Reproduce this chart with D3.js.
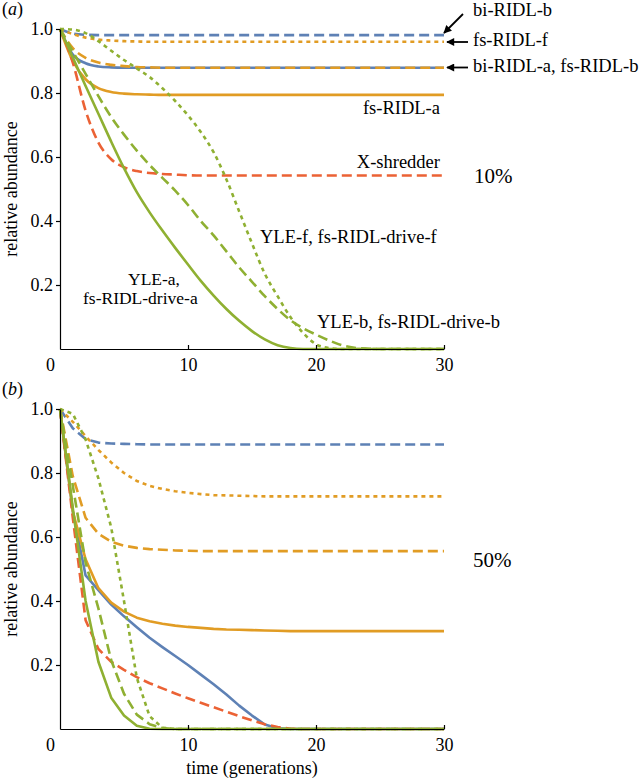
<!DOCTYPE html>
<html><head><meta charset="utf-8">
<script src="https://cdn.jsdelivr.net/npm/d3@7"></script>
<style>
body{margin:0;background:#fff}
svg{display:block}
text{font-family:"Liberation Serif","Times New Roman",serif;fill:#000}
</style>
</head><body>
<svg id="chart" width="640" height="781"></svg>
<script>
// ---------- DATA ----------
const generations = [0,1,2,3,4,5,6,7,8,9,10,11,12,13,14,15,16,17,18,19,20,21,22,23,24,25,26,27,28,29,30];
const xTicks = [0,10,20,30];
const yTicks = [0.2,0.4,0.6,0.8,1.0];

// panel (a): 10%
const a_biRIDL_b = [1.0,0.986,0.982,0.981,0.981,0.981,0.981,0.981,0.981,0.981,0.981,0.981,0.981,0.981,0.981,0.981,0.981,0.981,0.981,0.981,0.981,0.981,0.981,0.981,0.981,0.981,0.981,0.981,0.981,0.981,0.981];
const a_fsRIDL_f = [1.0,0.984,0.973,0.967,0.964,0.962,0.961,0.96,0.96,0.96,0.96,0.96,0.96,0.96,0.96,0.96,0.96,0.96,0.96,0.96,0.96,0.96,0.96,0.96,0.96,0.96,0.96,0.96,0.96,0.96,0.96];
const a_biRIDL_a = [1.0,0.92,0.893,0.883,0.88,0.879,0.879,0.879,0.879,0.879,0.879,0.879,0.879,0.879,0.879,0.879,0.879,0.879,0.879,0.879,0.879,0.879,0.879,0.879,0.879,0.879,0.879,0.879,0.879,0.879,0.879];
const a_fsRIDL_b = [1.0,0.94,0.91,0.895,0.888,0.884,0.881,0.88,0.879,0.879,0.879,0.879,0.879,0.879,0.879,0.879,0.879,0.879,0.879,0.879,0.879,0.879,0.879,0.879,0.879,0.879,0.879,0.879,0.879,0.879,0.879];
const a_fsRIDL_a = [1.0,0.90,0.843,0.815,0.803,0.798,0.796,0.795,0.794,0.794,0.794,0.794,0.794,0.794,0.794,0.794,0.794,0.794,0.794,0.794,0.794,0.794,0.794,0.794,0.794,0.794,0.794,0.794,0.794,0.794,0.794];
const a_xShredder = [1.0,0.895,0.745,0.645,0.593,0.568,0.556,0.55,0.547,0.545,0.543,0.542,0.542,0.542,0.542,0.542,0.542,0.542,0.542,0.542,0.542,0.542,0.542,0.542,0.542,0.542,0.542,0.542,0.542,0.542,0.542];
const a_yleA = [1.0,0.911,0.822,0.735,0.648,0.565,0.49,0.427,0.37,0.316,0.264,0.213,0.167,0.125,0.088,0.056,0.03,0.012,0.003,0,0,0,0,0,0,0,0,0,0,0,0];
const a_yleB = [1.0,0.93,0.86,0.79,0.725,0.67,0.62,0.575,0.535,0.495,0.45,0.40,0.355,0.305,0.255,0.21,0.165,0.125,0.09,0.065,0.045,0.027,0.012,0.004,0.001,0,0,0,0,0,0];
const a_yleF = [1.0,0.998,0.987,0.962,0.932,0.903,0.877,0.85,0.815,0.775,0.73,0.678,0.615,0.53,0.43,0.33,0.235,0.165,0.10,0.05,0.015,0.003,0,0,0,0,0,0,0,0,0];

// panel (b): 50%
const b_biRIDL_b = [1.0,0.94,0.906,0.895,0.892,0.891,0.89,0.889,0.889,0.889,0.889,0.889,0.889,0.889,0.889,0.889,0.889,0.889,0.889,0.889,0.889,0.889,0.889,0.889,0.889,0.889,0.889,0.889,0.889,0.889,0.889];
const b_fsRIDL_f = [1.0,0.96,0.915,0.872,0.833,0.80,0.775,0.76,0.75,0.743,0.738,0.734,0.731,0.73,0.729,0.728,0.727,0.727,0.727,0.727,0.727,0.727,0.727,0.727,0.727,0.727,0.727,0.727,0.727,0.727,0.727];
const b_fsRIDL_b = [1.0,0.79,0.66,0.61,0.585,0.573,0.566,0.562,0.56,0.558,0.557,0.556,0.556,0.556,0.556,0.556,0.556,0.556,0.556,0.556,0.556,0.556,0.556,0.556,0.556,0.556,0.556,0.556,0.556,0.556,0.556];
const b_fsRIDL_a = [1.0,0.68,0.53,0.44,0.395,0.367,0.348,0.337,0.329,0.323,0.319,0.316,0.313,0.311,0.31,0.309,0.308,0.307,0.306,0.306,0.306,0.306,0.306,0.306,0.306,0.306,0.306,0.306,0.306,0.306,0.306];
const b_biRIDL_a = [1.0,0.68,0.48,0.434,0.389,0.352,0.318,0.285,0.256,0.228,0.20,0.17,0.14,0.108,0.073,0.042,0.014,0.002,0,0,0,0,0,0,0,0,0,0,0,0,0];
const b_xShredder = [1.0,0.66,0.34,0.25,0.21,0.185,0.162,0.143,0.127,0.111,0.096,0.082,0.068,0.054,0.04,0.027,0.015,0.006,0.001,0,0,0,0,0,0,0,0,0,0,0,0];
const b_yleA = [1.0,0.69,0.40,0.21,0.098,0.042,0.01,0.001,0,0,0,0,0,0,0,0,0,0,0,0,0,0,0,0,0,0,0,0,0,0,0];
const b_yleB = [1.0,0.76,0.52,0.377,0.215,0.11,0.045,0.015,0.003,0,0,0,0,0,0,0,0,0,0,0,0,0,0,0,0,0,0,0,0,0,0];
const b_yleF = [1.0,0.985,0.905,0.783,0.63,0.40,0.16,0.04,0.004,0,0,0,0,0,0,0,0,0,0,0,0,0,0,0,0,0,0,0,0,0,0];

// ---------- STYLE ----------
const COL = {blue:"#5E81B5", orange:"#E19C24", green:"#8FB032", red:"#EB6235"};
const DASH = {solid:null, dashed:"10,5", dotted:"4,4"};

const svg = d3.select("#chart");
const defs = svg.append("defs");
defs.append("marker").attr("id","arr").attr("viewBox","0 0 10 10")
  .attr("refX",9).attr("refY",5).attr("markerWidth",10).attr("markerHeight",8)
  .attr("markerUnits","userSpaceOnUse").attr("orient","auto")
  .append("path").attr("d","M0,0 L10,5 L0,10 z").attr("fill","#000");

const x = d3.scaleLinear().domain([0,30]).range([60,444]);

function panel(yRange, series, tag, pct, pctPos, curve){
  const y = d3.scaleLinear().domain([0,1]).range(yRange);
  const g = svg.append("g");
  const line = d3.line().curve(curve).x((d,i)=>x(generations[i])).y(d=>y(d));
  series.forEach(s=>{
    g.append("path").attr("d", line(s.data)).attr("fill","none")
      .attr("stroke", COL[s.color]).attr("stroke-width",2.6)
      .attr("stroke-dasharray", DASH[s.dash]).attr("stroke-linejoin","round");
  });
  const ya = g.append("g").attr("transform","translate(60,0)")
    .call(d3.axisLeft(y).tickValues(yTicks).tickFormat(d3.format(".1f")).tickSize(4).tickSizeOuter(0).tickPadding(3));
  const xa = g.append("g").attr("transform",`translate(0,${yRange[0]})`)
    .call(d3.axisBottom(x).tickValues(xTicks).tickFormat(d3.format("d")).tickSize(-4).tickSizeOuter(0).tickPadding(9));
  [ya,xa].forEach(a=>{
    a.attr("font-family",null);
    a.selectAll("path,line").attr("stroke","#000").attr("stroke-width",1.2);
    a.selectAll("text").attr("font-size",18).attr("fill","#000");
  });
  xa.selectAll(".tick").filter(d=>d===0).select("line").remove();
  xa.selectAll(".tick").filter(d=>d===0).select("text").attr("x",-10);
  const cy = (yRange[0]+yRange[1])/2;
  g.append("text").attr("transform",`translate(17,${cy}) rotate(-90)`)
    .attr("text-anchor","middle").attr("font-size",18).text("relative abundance");
  const t = g.append("text").attr("x",2).attr("y",yRange[1]-14).attr("font-size",18);
  t.append("tspan").text("(");
  t.append("tspan").attr("font-style","italic").text(tag);
  t.append("tspan").text(")");
  g.append("text").attr("x",pctPos[0]).attr("y",pctPos[1]).attr("font-size",21).text(pct);
  return {g,y};
}

panel([349,29], [
  {data:a_biRIDL_a, color:"blue", dash:"solid"},
  {data:a_biRIDL_b, color:"blue", dash:"dashed"},
  {data:a_fsRIDL_a, color:"orange", dash:"solid"},
  {data:a_fsRIDL_b, color:"orange", dash:"dashed"},
  {data:a_fsRIDL_f, color:"orange", dash:"dotted"},
  {data:a_xShredder, color:"red", dash:"dashed"},
  {data:a_yleA, color:"green", dash:"solid"},
  {data:a_yleB, color:"green", dash:"dashed"},
  {data:a_yleF, color:"green", dash:"dotted"}
], "a", "10%", [474,183], d3.curveMonotoneX);

panel([729,409], [
  {data:b_biRIDL_a, color:"blue", dash:"solid"},
  {data:b_biRIDL_b, color:"blue", dash:"dashed"},
  {data:b_fsRIDL_a, color:"orange", dash:"solid"},
  {data:b_fsRIDL_b, color:"orange", dash:"dashed"},
  {data:b_fsRIDL_f, color:"orange", dash:"dotted"},
  {data:b_xShredder, color:"red", dash:"dashed"},
  {data:b_yleA, color:"green", dash:"solid"},
  {data:b_yleB, color:"green", dash:"dashed"},
  {data:b_yleF, color:"green", dash:"dotted"}
], "b", "50%", [473,567], d3.curveLinear);

svg.append("text").attr("x",252).attr("y",774).attr("text-anchor","middle").attr("font-size",18).text("time (generations)");

const ann = [
  {t:"bi-RIDL-b", x:473, y:16, a:"start", s:18.5},
  {t:"fs-RIDL-f", x:473, y:46, a:"start", s:18.5},
  {t:"bi-RIDL-a, fs-RIDL-b", x:473, y:72, a:"start", s:18.5},
  {t:"fs-RIDL-a", x:440, y:114, a:"end", s:18.5},
  {t:"X-shredder", x:440, y:168, a:"end", s:18.5},
  {t:"YLE-f, fs-RIDL-drive-f", x:260, y:243, a:"start", s:18.5},
  {t:"YLE-b, fs-RIDL-drive-b", x:317, y:328, a:"start", s:18.5},
  {t:"YLE-a,", x:128, y:285, a:"start", s:17.5},
  {t:"fs-RIDL-drive-a", x:83, y:304, a:"start", s:17.5}
];
ann.forEach(d=>svg.append("text").attr("x",d.x).attr("y",d.y).attr("text-anchor",d.a).attr("font-size",d.s).text(d.t));

const arrows = [
  [[463,14],[444,33]],
  [[468,42],[447,42]],
  [[468,67.5],[447,67.5]]
];
arrows.forEach(p=>svg.append("line").attr("x1",p[0][0]).attr("y1",p[0][1]).attr("x2",p[1][0]).attr("y2",p[1][1])
  .attr("stroke","#000").attr("stroke-width",1.8).attr("marker-end","url(#arr)"));
</script>
</body></html>
